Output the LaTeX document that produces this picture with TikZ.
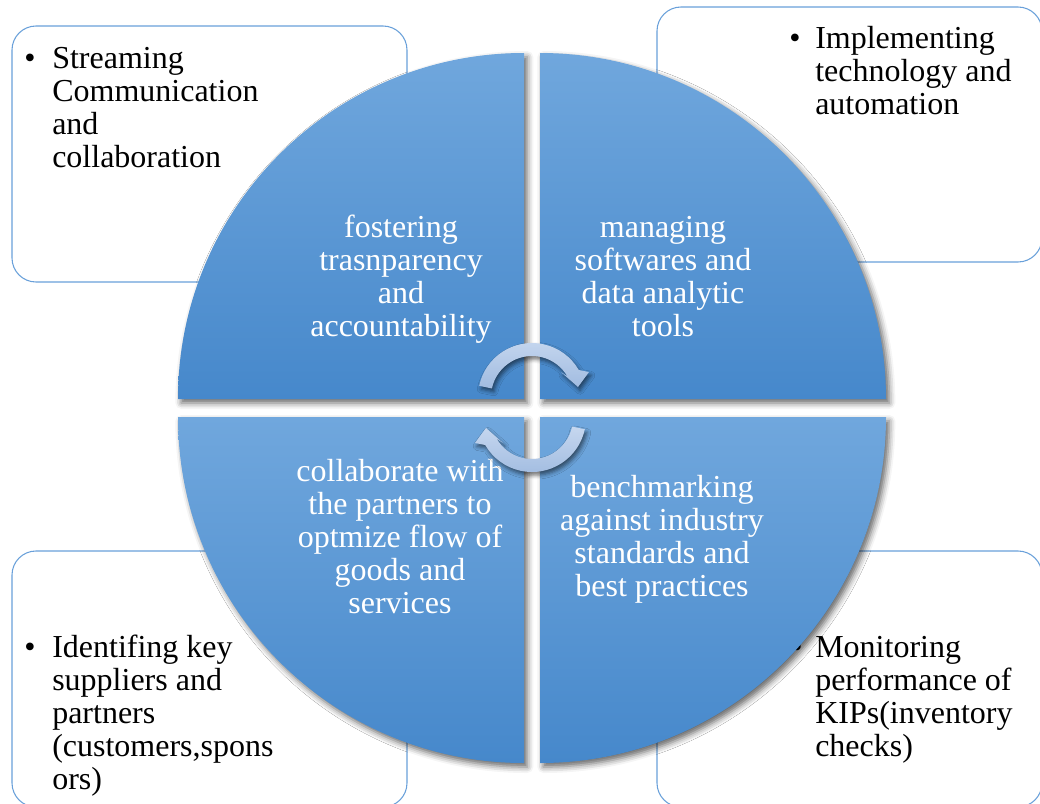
\documentclass[tikz,border=0pt]{standalone}
\usepackage{fontspec}
\setmainfont{Liberation Serif}
\usetikzlibrary{shadows.blur}
\definecolor{boxline}{RGB}{105,160,218}
\definecolor{qtop}{RGB}{112,167,221}
\definecolor{qbot}{RGB}{70,136,203}
\definecolor{arrtop}{RGB}{198,215,239}
\definecolor{arrbot}{RGB}{160,187,224}
\begin{document}
\begin{tikzpicture}[x=0.75pt,y=-0.75pt,
  infobox/.style={draw=boxline, line width=0.8pt, fill=white, rounded corners=18pt},
  quad/.style={top color=qtop, bottom color=qbot,
    blur shadow={shadow xshift=2.5pt, shadow yshift=-3pt, shadow blur radius=4.5pt, shadow opacity=60}},
  cyc/.style={top color=arrtop, bottom color=arrbot,
    blur shadow={shadow xshift=1.5pt, shadow yshift=-2.5pt, shadow blur radius=3pt, shadow opacity=55}},
  txt/.style={inner sep=0pt, font=\fontsize{24}{24.75}\selectfont},
  boxtext/.style={txt, anchor=base west, text=black},
  bul/.style={txt, anchor=base, text=black},
  qtext/.style={txt, anchor=base, text=white}
]
\useasboundingbox (0,0) rectangle (1040,804);

% corner boxes
\path[infobox] (12,26) rectangle (407,282);
\path[infobox] (657,7) rectangle (1042,262);
\path[infobox] (12,551) rectangle (407,807);
\path[infobox] (657,551) rectangle (1042,807);

% box texts
\node[bul] (b1) at (30,68) {•};
\node[boxtext] (t1) at (52,68) {\begin{tabular}[t]{@{}l@{}}Streaming\\Communication\\and\\collaboration\end{tabular}};
\node[bul] (b2) at (795,48) {•};
\node[boxtext] (t2) at (815,48) {\begin{tabular}[t]{@{}l@{}}Implementing\\technology and\\automation\end{tabular}};
\node[bul] (b3) at (30,657) {•};
\node[boxtext] (t3) at (52,657) {\begin{tabular}[t]{@{}l@{}}Identifing key\\suppliers and\\partners\\(customers,spons\\ors)\end{tabular}};
\node[bul] (b4) at (797,657) {•};
\node[boxtext] (t4) at (815,657) {\begin{tabular}[t]{@{}l@{}}Monitoring\\performance of\\KIPs(inventory\\checks)\end{tabular}};

% quadrants
\path[quad] (524,399) -- ++(-346,0) arc[start angle=180, end angle=270, radius=346] -- cycle;
\path[quad] (540,399) -- ++(0,-346) arc[start angle=270, end angle=360, radius=346] -- cycle;
\path[quad] (540,417) -- ++(346,0) arc[start angle=0, end angle=90, radius=346] -- cycle;
\path[quad] (524,417) -- ++(0,346) arc[start angle=90, end angle=180, radius=346] -- cycle;

% quadrant texts
\node[qtext] (q1) at (401,237) {\begin{tabular}[t]{@{}c@{}}fostering\\trasnparency\\and\\accountability\end{tabular}};
\node[qtext] (q2) at (663,237) {\begin{tabular}[t]{@{}c@{}}managing\\softwares and\\data analytic\\tools\end{tabular}};
\node[qtext] (q3) at (400,481) {\begin{tabular}[t]{@{}c@{}}collaborate with\\the partners to\\optmize flow of\\goods and\\services\end{tabular}};
\node[qtext] (q4) at (662,497) {\begin{tabular}[t]{@{}c@{}}benchmarking\\against industry\\standards and\\best practices\end{tabular}};

% central circular arrows
\path[cyc] ([shift={(532,397)}]192:54) arc[start angle=192, end angle=330, radius=54]
  -- (589,372) -- (578,387) -- (561,372)
  -- ([shift={(532,397)}]330:41) arc[start angle=330, end angle=192, radius=41] -- cycle;
\path[cyc] ([shift={(532,418)}]12:54) arc[start angle=12, end angle=150, radius=54]
  -- (475,443) -- (486,428) -- (503,443)
  -- ([shift={(532,418)}]150:41) arc[start angle=150, end angle=12, radius=41] -- cycle;
\end{tikzpicture}
\end{document}
